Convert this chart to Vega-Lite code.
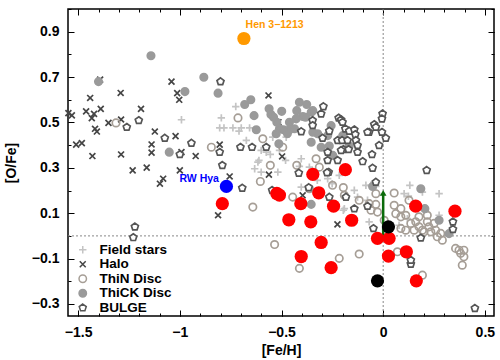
{
  "$schema": "https://vega.github.io/schema/vega-lite/v6.json",
  "width": 426,
  "height": 307,
  "autosize": {"type": "none"},
  "padding": {"left": 68, "top": 9, "right": 6, "bottom": 44},
  "background": "white",
  "datasets": {
    "bg": [
      {"x":-0.992,"y":0.512,"g":"Field stars"},{"x":-0.796,"y":0.520,"g":"Field stars"},{"x":-0.725,"y":0.570,"g":"Field stars"},{"x":-0.804,"y":0.476,"g":"Field stars"},{"x":-0.783,"y":0.476,"g":"Field stars"},{"x":-0.739,"y":0.476,"g":"Field stars"},{"x":-0.698,"y":0.476,"g":"Field stars"},{"x":-0.657,"y":0.476,"g":"Field stars"},{"x":-0.709,"y":0.462,"g":"Field stars"},{"x":-0.673,"y":0.421,"g":"Field stars"},{"x":-0.600,"y":0.377,"g":"Field stars"},{"x":-0.543,"y":0.435,"g":"Field stars"},{"x":-0.477,"y":0.435,"g":"Field stars"},{"x":-0.510,"y":0.377,"g":"Field stars"},{"x":-0.575,"y":0.369,"g":"Field stars"},{"x":-0.616,"y":0.325,"g":"Field stars"},{"x":-0.632,"y":0.296,"g":"Field stars"},{"x":-0.600,"y":0.281,"g":"Field stars"},{"x":-0.518,"y":0.281,"g":"Field stars"},{"x":-0.403,"y":0.340,"g":"Field stars"},{"x":-0.412,"y":0.306,"g":"Field stars"},{"x":-0.555,"y":0.359,"g":"Field stars"},{"x":-0.611,"y":0.333,"g":"Field stars"},{"x":-0.363,"y":0.303,"g":"Field stars"},{"x":-0.273,"y":0.252,"g":"Field stars"},{"x":-0.216,"y":0.267,"g":"Field stars"},{"x":-0.191,"y":0.120,"g":"Field stars"},{"x":-0.403,"y":0.215,"g":"Field stars"},{"x":-0.142,"y":0.201,"g":"Field stars"},{"x":-0.085,"y":0.223,"g":"Field stars"},{"x":-0.077,"y":0.157,"g":"Field stars"},{"x":-0.060,"y":0.223,"g":"Field stars"},{"x":-0.036,"y":0.218,"g":"Field stars"},{"x":-0.069,"y":0.062,"g":"Field stars"},{"x":0.103,"y":0.186,"g":"Field stars"},{"x":0.131,"y":0.223,"g":"Field stars"},{"x":0.275,"y":0.186,"g":"Field stars"},{"x":0.078,"y":0.047,"g":"Field stars"},{"x":0.193,"y":0.193,"g":"Field stars"},{"x":0.275,"y":0.091,"g":"Field stars"},{"x":0.119,"y":0.076,"g":"Field stars"},{"x":0.124,"y":0.175,"g":"Field stars"},{"x":-0.196,"y":0.113,"g":"Field stars"},{"x":-0.251,"y":0.230,"g":"Field stars"},{"x":-0.126,"y":0.171,"g":"Field stars"},{"x":-0.480,"y":0.333,"g":"Field stars"},{"x":-0.324,"y":0.245,"g":"Field stars"},
      {"x":-1.548,"y":0.541,"g":"Halo"},{"x":-1.531,"y":0.531,"g":"Halo"},{"x":-1.510,"y":0.402,"g":"Halo"},{"x":-1.482,"y":0.409,"g":"Halo"},{"x":-1.461,"y":0.549,"g":"Halo"},{"x":-1.441,"y":0.608,"g":"Halo"},{"x":-1.433,"y":0.519,"g":"Halo"},{"x":-1.422,"y":0.538,"g":"Halo"},{"x":-1.417,"y":0.472,"g":"Halo"},{"x":-1.408,"y":0.460,"g":"Halo"},{"x":-1.430,"y":0.352,"g":"Halo"},{"x":-1.392,"y":0.689,"g":"Halo"},{"x":-1.389,"y":0.560,"g":"Halo"},{"x":-1.351,"y":0.498,"g":"Halo"},{"x":-1.291,"y":0.630,"g":"Halo"},{"x":-1.289,"y":0.359,"g":"Halo"},{"x":-1.289,"y":0.513,"g":"Halo"},{"x":-1.232,"y":0.289,"g":"Halo"},{"x":-1.191,"y":0.560,"g":"Halo"},{"x":-1.163,"y":0.301,"g":"Halo"},{"x":-1.139,"y":0.403,"g":"Halo"},{"x":-1.139,"y":0.367,"g":"Halo"},{"x":-1.123,"y":0.460,"g":"Halo"},{"x":-1.082,"y":0.252,"g":"Halo"},{"x":-1.041,"y":0.680,"g":"Halo"},{"x":-1.021,"y":0.440,"g":"Halo"},{"x":-1.013,"y":0.629,"g":"Halo"},{"x":-1.003,"y":0.600,"g":"Halo"},{"x":-1.000,"y":0.289,"g":"Halo"},{"x":-0.992,"y":0.369,"g":"Halo"},{"x":-0.922,"y":0.352,"g":"Halo"},{"x":-0.804,"y":0.402,"g":"Halo"},{"x":-0.755,"y":0.262,"g":"Halo"},{"x":-0.564,"y":0.619,"g":"Halo"},{"x":-0.515,"y":0.501,"g":"Halo"},{"x":-0.497,"y":0.350,"g":"Halo"},{"x":-0.562,"y":0.270,"g":"Halo"},{"x":-1.098,"y":0.230,"g":"Halo"},{"x":-0.812,"y":0.091,"g":"Halo"},{"x":-0.396,"y":0.179,"g":"Halo"},{"x":-0.225,"y":0.051,"g":"Halo"},
      {"x":-1.314,"y":0.498,"g":"ThiN Disc"},{"x":-0.845,"y":0.391,"g":"ThiN Disc"},{"x":-0.714,"y":0.520,"g":"ThiN Disc"},{"x":-0.592,"y":0.428,"g":"ThiN Disc"},{"x":-0.494,"y":0.391,"g":"ThiN Disc"},{"x":-0.425,"y":0.311,"g":"ThiN Disc"},{"x":-0.330,"y":0.340,"g":"ThiN Disc"},{"x":-0.555,"y":0.311,"g":"ThiN Disc"},{"x":-0.604,"y":0.240,"g":"ThiN Disc"},{"x":-0.445,"y":0.171,"g":"ThiN Disc"},{"x":-0.363,"y":0.208,"g":"ThiN Disc"},{"x":-0.641,"y":0.127,"g":"ThiN Disc"},{"x":-0.534,"y":-0.038,"g":"ThiN Disc"},{"x":-0.412,"y":-0.143,"g":"ThiN Disc"},{"x":-0.216,"y":-0.099,"g":"ThiN Disc"},{"x":-0.118,"y":-0.080,"g":"ThiN Disc"},{"x":-0.314,"y":0.303,"g":"ThiN Disc"},{"x":-0.249,"y":0.223,"g":"ThiN Disc"},{"x":-0.196,"y":0.213,"g":"ThiN Disc"},{"x":-0.191,"y":0.179,"g":"ThiN Disc"},{"x":-0.036,"y":0.186,"g":"ThiN Disc"},{"x":0.054,"y":0.189,"g":"ThiN Disc"},{"x":-0.036,"y":0.139,"g":"ThiN Disc"},{"x":-0.028,"y":0.105,"g":"ThiN Disc"},{"x":0.054,"y":0.135,"g":"ThiN Disc"},{"x":0.087,"y":0.120,"g":"ThiN Disc"},{"x":0.062,"y":0.098,"g":"ThiN Disc"},{"x":0.087,"y":0.084,"g":"ThiN Disc"},{"x":0.111,"y":0.091,"g":"ThiN Disc"},{"x":0.087,"y":0.033,"g":"ThiN Disc"},{"x":0.111,"y":0.025,"g":"ThiN Disc"},{"x":0.136,"y":0.055,"g":"ThiN Disc"},{"x":0.160,"y":0.062,"g":"ThiN Disc"},{"x":0.176,"y":0.040,"g":"ThiN Disc"},{"x":0.152,"y":0.025,"g":"ThiN Disc"},{"x":0.193,"y":0.025,"g":"ThiN Disc"},{"x":0.217,"y":0.062,"g":"ThiN Disc"},{"x":0.225,"y":0.040,"g":"ThiN Disc"},{"x":0.250,"y":0.055,"g":"ThiN Disc"},{"x":0.258,"y":0.025,"g":"ThiN Disc"},{"x":0.217,"y":0.091,"g":"ThiN Disc"},{"x":0.176,"y":0.084,"g":"ThiN Disc"},{"x":0.201,"y":0.018,"g":"ThiN Disc"},{"x":0.234,"y":0.018,"g":"ThiN Disc"},{"x":0.283,"y":0.011,"g":"ThiN Disc"},{"x":0.266,"y":-0.004,"g":"ThiN Disc"},{"x":0.291,"y":-0.019,"g":"ThiN Disc"},{"x":0.356,"y":-0.055,"g":"ThiN Disc"},{"x":0.373,"y":-0.063,"g":"ThiN Disc"},{"x":0.397,"y":-0.063,"g":"ThiN Disc"},{"x":0.381,"y":-0.077,"g":"ThiN Disc"},{"x":0.397,"y":-0.092,"g":"ThiN Disc"},{"x":0.389,"y":-0.129,"g":"ThiN Disc"},{"x":-0.069,"y":0.142,"g":"ThiN Disc"},{"x":-0.060,"y":0.113,"g":"ThiN Disc"},{"x":0.070,"y":-0.070,"g":"ThiN Disc"},{"x":0.193,"y":-0.173,"g":"ThiN Disc"},{"x":0.127,"y":0.157,"g":"ThiN Disc"},{"x":-0.118,"y":0.157,"g":"ThiN Disc"},{"x":0.005,"y":0.069,"g":"ThiN Disc"},
      {"x":-1.142,"y":0.794,"g":"ThiCK Disc"},{"x":-1.400,"y":0.680,"g":"ThiCK Disc"},{"x":-0.975,"y":0.636,"g":"ThiCK Disc"},{"x":-0.882,"y":0.699,"g":"ThiCK Disc"},{"x":-0.812,"y":0.629,"g":"ThiCK Disc"},{"x":-0.681,"y":0.579,"g":"ThiCK Disc"},{"x":-1.052,"y":0.369,"g":"ThiCK Disc"},{"x":-0.651,"y":0.600,"g":"ThiCK Disc"},{"x":-0.635,"y":0.530,"g":"ThiCK Disc"},{"x":-0.561,"y":0.560,"g":"ThiCK Disc"},{"x":-0.552,"y":0.535,"g":"ThiCK Disc"},{"x":-0.499,"y":0.549,"g":"ThiCK Disc"},{"x":-0.523,"y":0.501,"g":"ThiCK Disc"},{"x":-0.510,"y":0.472,"g":"ThiCK Disc"},{"x":-0.412,"y":0.589,"g":"ThiCK Disc"},{"x":-0.376,"y":0.579,"g":"ThiCK Disc"},{"x":-0.425,"y":0.552,"g":"ThiCK Disc"},{"x":-0.395,"y":0.526,"g":"ThiCK Disc"},{"x":-0.354,"y":0.545,"g":"ThiCK Disc"},{"x":-0.461,"y":0.501,"g":"ThiCK Disc"},{"x":-0.428,"y":0.516,"g":"ThiCK Disc"},{"x":-0.382,"y":0.523,"g":"ThiCK Disc"},{"x":-0.346,"y":0.552,"g":"ThiCK Disc"},{"x":-0.461,"y":0.468,"g":"ThiCK Disc"},{"x":-0.436,"y":0.472,"g":"ThiCK Disc"},{"x":-0.624,"y":0.468,"g":"ThiCK Disc"},{"x":-0.513,"y":0.406,"g":"ThiCK Disc"},{"x":-0.354,"y":0.413,"g":"ThiCK Disc"},{"x":-0.322,"y":0.450,"g":"ThiCK Disc"},{"x":-0.256,"y":0.486,"g":"ThiCK Disc"},{"x":-0.273,"y":0.442,"g":"ThiCK Disc"},{"x":-0.199,"y":0.442,"g":"ThiCK Disc"},{"x":-0.305,"y":0.391,"g":"ThiCK Disc"},{"x":-0.248,"y":0.355,"g":"ThiCK Disc"},{"x":-0.539,"y":0.523,"g":"ThiCK Disc"},{"x":-0.490,"y":0.468,"g":"ThiCK Disc"},{"x":-0.526,"y":0.450,"g":"ThiCK Disc"},{"x":-0.346,"y":0.457,"g":"ThiCK Disc"},{"x":-0.265,"y":0.396,"g":"ThiCK Disc"},{"x":-0.167,"y":0.396,"g":"ThiCK Disc"},{"x":0.185,"y":0.208,"g":"ThiCK Disc"},{"x":0.275,"y":0.069,"g":"ThiCK Disc"},{"x":0.324,"y":0.010,"g":"ThiCK Disc"},{"x":-0.354,"y":0.139,"g":"ThiCK Disc"},{"x":0.205,"y":0.120,"g":"ThiCK Disc"},{"x":-0.052,"y":0.218,"g":"ThiCK Disc"},{"x":-0.471,"y":0.451,"g":"ThiCK Disc"},
      {"x":-0.800,"y":0.680,"g":"BULGE"},{"x":-1.261,"y":0.479,"g":"BULGE"},{"x":-1.202,"y":0.509,"g":"BULGE"},{"x":-1.074,"y":0.431,"g":"BULGE"},{"x":-0.943,"y":0.409,"g":"BULGE"},{"x":-1.000,"y":0.359,"g":"BULGE"},{"x":-0.804,"y":0.369,"g":"BULGE"},{"x":-0.791,"y":0.311,"g":"BULGE"},{"x":-0.702,"y":0.391,"g":"BULGE"},{"x":-1.221,"y":0.040,"g":"BULGE"},{"x":-1.229,"y":-0.007,"g":"BULGE"},{"x":-0.693,"y":0.211,"g":"BULGE"},{"x":-0.645,"y":0.391,"g":"BULGE"},{"x":-0.575,"y":0.391,"g":"BULGE"},{"x":-0.403,"y":0.460,"g":"BULGE"},{"x":-0.347,"y":0.509,"g":"BULGE"},{"x":-0.294,"y":0.570,"g":"BULGE"},{"x":-0.305,"y":0.538,"g":"BULGE"},{"x":-0.347,"y":0.487,"g":"BULGE"},{"x":-0.265,"y":0.462,"g":"BULGE"},{"x":-0.298,"y":0.431,"g":"BULGE"},{"x":-0.224,"y":0.421,"g":"BULGE"},{"x":-0.219,"y":0.520,"g":"BULGE"},{"x":-0.207,"y":0.512,"g":"BULGE"},{"x":-0.200,"y":0.501,"g":"BULGE"},{"x":-0.186,"y":0.472,"g":"BULGE"},{"x":-0.167,"y":0.462,"g":"BULGE"},{"x":-0.142,"y":0.468,"g":"BULGE"},{"x":-0.137,"y":0.447,"g":"BULGE"},{"x":-0.202,"y":0.421,"g":"BULGE"},{"x":-0.175,"y":0.421,"g":"BULGE"},{"x":-0.134,"y":0.421,"g":"BULGE"},{"x":-0.196,"y":0.381,"g":"BULGE"},{"x":-0.170,"y":0.381,"g":"BULGE"},{"x":-0.207,"y":0.377,"g":"BULGE"},{"x":-0.273,"y":0.369,"g":"BULGE"},{"x":-0.126,"y":0.369,"g":"BULGE"},{"x":-0.126,"y":0.399,"g":"BULGE"},{"x":-0.224,"y":0.333,"g":"BULGE"},{"x":-0.273,"y":0.333,"g":"BULGE"},{"x":-0.069,"y":0.457,"g":"BULGE"},{"x":-0.044,"y":0.491,"g":"BULGE"},{"x":-0.036,"y":0.479,"g":"BULGE"},{"x":-0.003,"y":0.538,"g":"BULGE"},{"x":-0.006,"y":0.516,"g":"BULGE"},{"x":-0.006,"y":0.457,"g":"BULGE"},{"x":0.013,"y":0.431,"g":"BULGE"},{"x":-0.020,"y":0.399,"g":"BULGE"},{"x":-0.055,"y":0.359,"g":"BULGE"},{"x":-0.077,"y":0.457,"g":"BULGE"},{"x":-0.101,"y":0.328,"g":"BULGE"},{"x":-0.052,"y":0.299,"g":"BULGE"},{"x":-0.268,"y":0.281,"g":"BULGE"},{"x":-0.415,"y":0.277,"g":"BULGE"},{"x":-0.276,"y":0.279,"g":"BULGE"},{"x":0.214,"y":0.289,"g":"BULGE"},{"x":-0.036,"y":0.237,"g":"BULGE"},{"x":-0.183,"y":0.171,"g":"BULGE"},{"x":-0.142,"y":0.120,"g":"BULGE"},{"x":-0.077,"y":0.131,"g":"BULGE"},{"x":-0.265,"y":0.171,"g":"BULGE"},{"x":0.343,"y":0.062,"g":"BULGE"},{"x":0.343,"y":0.029,"g":"BULGE"},{"x":0.185,"y":-0.009,"g":"BULGE"},{"x":0.136,"y":-0.124,"g":"BULGE"},{"x":0.136,"y":-0.107,"g":"BULGE"},{"x":0.451,"y":-0.319,"g":"BULGE"},{"x":-0.048,"y":0.033,"g":"BULGE"},{"x":-0.546,"y":0.201,"g":"BULGE"},{"x":-0.366,"y":0.213,"g":"BULGE"}
    ],
    "hl": [
      {"x":-0.791,"y":0.142,"k":"This work"},{"x":-0.523,"y":0.187,"k":"This work"},{"x":-0.510,"y":0.180,"k":"This work"},{"x":-0.346,"y":0.271,"k":"This work"},{"x":-0.186,"y":0.292,"k":"This work"},{"x":-0.405,"y":0.142,"k":"This work"},{"x":-0.317,"y":0.190,"k":"This work"},{"x":-0.244,"y":0.131,"k":"This work"},{"x":-0.464,"y":0.071,"k":"This work"},{"x":-0.356,"y":0.062,"k":"This work"},{"x":-0.305,"y":-0.029,"k":"This work"},{"x":-0.403,"y":-0.091,"k":"This work"},{"x":-0.256,"y":-0.140,"k":"This work"},{"x":-0.155,"y":0.069,"k":"This work"},{"x":0.160,"y":0.131,"k":"This work"},{"x":0.353,"y":0.109,"k":"This work"},{"x":-0.028,"y":-0.011,"k":"This work"},{"x":0.029,"y":-0.011,"k":"This work"},{"x":0.026,"y":-0.089,"k":"This work"},{"x":0.114,"y":-0.070,"k":"This work"},{"x":0.163,"y":-0.198,"k":"This work"},
      {"x":0.026,"y":0.040,"k":"Reference"},{"x":-0.028,"y":-0.198,"k":"Reference"},
      {"x":-0.771,"y":0.218,"k":"RW Hya"},
      {"x":-0.685,"y":0.870,"k":"Hen 3−1213"}
    ],
    "lab": [
      {"x":-0.905,"y":0.252,"t":"RW Hya","k":"RW Hya"},
      {"x":-0.534,"y":0.931,"t":"Hen 3−1213","k":"Hen 3−1213"}
    ],
    "zero": [{"v":0}],
    "arrow": [{"x":0,"y":0.0,"y2":0.185,"tip":0.19}]
  },
  "resolve": {"axis": {"x": "independent", "y": "independent"}},
  "layer": [
    {
      "data": {"name": "zero"},
      "mark": {"type": "rule", "color": "#888888", "strokeDash": [2, 2], "strokeWidth": 1},
      "encoding": {
        "y": {"field": "v", "type": "quantitative", "scale": {"domain": [-0.353, 1.0], "nice": false, "zero": false},
              "axis": {"orient": "left", "values": [-0.3,-0.2,-0.1,0,0.1,0.2,0.3,0.4,0.5,0.6,0.7,0.8,0.9,1.0], "tickSize": -3, "labels": false, "title": null, "domain": false}}
      }
    },
    {
      "data": {"name": "zero"},
      "mark": {"type": "rule", "color": "#888888", "strokeDash": [2, 2], "strokeWidth": 1},
      "encoding": {
        "x": {"field": "v", "type": "quantitative", "scale": {"domain": [-1.55, 0.545], "nice": false, "zero": false},
              "axis": {"orient": "bottom", "values": [-1.5,-1.4,-1.3,-1.2,-1.1,-1,-0.9,-0.8,-0.7,-0.6,-0.5,-0.4,-0.3,-0.2,-0.1,0,0.1,0.2,0.3,0.4,0.5], "tickSize": -3, "labels": false, "title": null, "domain": false}}
      }
    },
    {
      "data": {"name": "bg"},
      "mark": {"type": "point", "strokeWidth": 1.7, "opacity": 1, "size": 55},
      "encoding": {
        "x": {"field": "x", "type": "quantitative", "axis": {"orient": "bottom", "values": [-1.5,-1,-0.5,0,0.5], "format": "~g", "tickSize": -6, "labelPadding": 15, "title": "[Fe/H]", "titlePadding": 4, "domain": false}},
        "y": {"field": "y", "type": "quantitative", "axis": {"orient": "left", "values": [-0.3,-0.1,0.1,0.3,0.5,0.7,0.9], "format": "~g", "tickSize": -6, "labelPadding": 15, "title": "[O/Fe]", "titlePadding": 13, "domain": false}},
        "shape": {"field": "g", "type": "nominal", "scale": {"domain": ["Field stars","Halo","ThiN Disc","ThiCK Disc","BULGE"], "range": ["M-1,0L1,0M0,-1L0,1", "M-0.8,-0.8L0.8,0.8M-0.8,0.8L0.8,-0.8", "circle", "circle", "M0,-1L0.951,-0.309L0.588,0.809L-0.588,0.809L-0.951,-0.309Z"]},
                  "legend": {"orient": "none", "legendX": 8, "legendY": 234, "title": null}},
        "stroke": {"field": "g", "type": "nominal", "scale": {"domain": ["Field stars","Halo","ThiN Disc","ThiCK Disc","BULGE"], "range": ["#c4c4c4","#454545","#a69e96","#9a9a9a","#555555"]},
                   "legend": {"orient": "none", "legendX": 8, "legendY": 234, "title": null}},
        "fill": {"field": "g", "type": "nominal", "scale": {"domain": ["Field stars","Halo","ThiN Disc","ThiCK Disc","BULGE"], "range": ["transparent","transparent","transparent","#9a9a9a","#ffffff"]},
                 "legend": {"orient": "none", "legendX": 8, "legendY": 234, "title": null}}
      }
    },
    {
      "data": {"name": "arrow"},
      "mark": {"type": "rule", "color": "#0b6b0b", "strokeWidth": 2.5},
      "encoding": {
        "x": {"field": "x", "type": "quantitative", "axis": null},
        "y": {"field": "y", "type": "quantitative", "axis": null},
        "y2": {"field": "y2"}
      }
    },
    {
      "data": {"name": "arrow"},
      "mark": {"type": "point", "shape": "triangle-up", "filled": true, "color": "#0b6b0b", "size": 45, "opacity": 1},
      "encoding": {
        "x": {"field": "x", "type": "quantitative", "axis": null},
        "y": {"field": "tip", "type": "quantitative", "axis": null}
      }
    },
    {
      "data": {"name": "hl"},
      "mark": {"type": "circle", "size": 175, "opacity": 1},
      "encoding": {
        "x": {"field": "x", "type": "quantitative", "axis": {"orient": "top", "values": [-1.5,-1,-0.5,0,0.5], "tickSize": -6, "labels": false, "title": null, "domain": false}},
        "y": {"field": "y", "type": "quantitative", "axis": {"orient": "right", "values": [-0.3,-0.1,0.1,0.3,0.5,0.7,0.9], "tickSize": -6, "labels": false, "title": null, "domain": false}},
        "color": {"field": "k", "type": "nominal", "scale": {"domain": ["This work","Reference","RW Hya","Hen 3−1213"], "range": ["#ff0000","#000000","#0000ff","#ff9900"]}, "legend": null}
      }
    },
    {
      "data": {"name": "lab"},
      "mark": {"type": "text", "font": "Liberation Sans", "fontWeight": "bold", "fontSize": 10.5},
      "encoding": {
        "x": {"field": "x", "type": "quantitative", "axis": {"orient": "top", "values": [-1.5,-1.4,-1.3,-1.2,-1.1,-1,-0.9,-0.8,-0.7,-0.6,-0.5,-0.4,-0.3,-0.2,-0.1,0,0.1,0.2,0.3,0.4,0.5], "tickSize": -3, "labels": false, "title": null, "domain": false}},
        "y": {"field": "y", "type": "quantitative", "axis": {"orient": "right", "values": [-0.3,-0.2,-0.1,0,0.1,0.2,0.3,0.4,0.5,0.6,0.7,0.8,0.9,1.0], "tickSize": -3, "labels": false, "title": null, "domain": false}},
        "text": {"field": "t"},
        "color": {"field": "k", "type": "nominal", "scale": {"domain": ["This work","Reference","RW Hya","Hen 3−1213"], "range": ["#ff0000","#000000","#0000ff","#ff9900"]}, "legend": null}
      }
    }
  ],
  "config": {
    "view": {"stroke": "#000000", "strokeWidth": 1.5},
    "axis": {
      "grid": false, "domain": false, "tickColor": "#000000", "tickWidth": 1,
      "labelFont": "Liberation Sans", "labelFontWeight": "bold", "labelFontSize": 14, "labelColor": "#000000",
      "titleFont": "Liberation Sans", "titleFontWeight": "bold", "titleFontSize": 14, "titleColor": "#000000"
    },
    "legend": {
      "labelFont": "Liberation Sans", "labelFontWeight": "bold", "labelFontSize": 13.5, "labelColor": "#000000",
      "symbolStrokeWidth": 1.5, "rowPadding": -0.5, "padding": 0, "labelOffset": 10, "symbolSize": 55
    }
  }
}
